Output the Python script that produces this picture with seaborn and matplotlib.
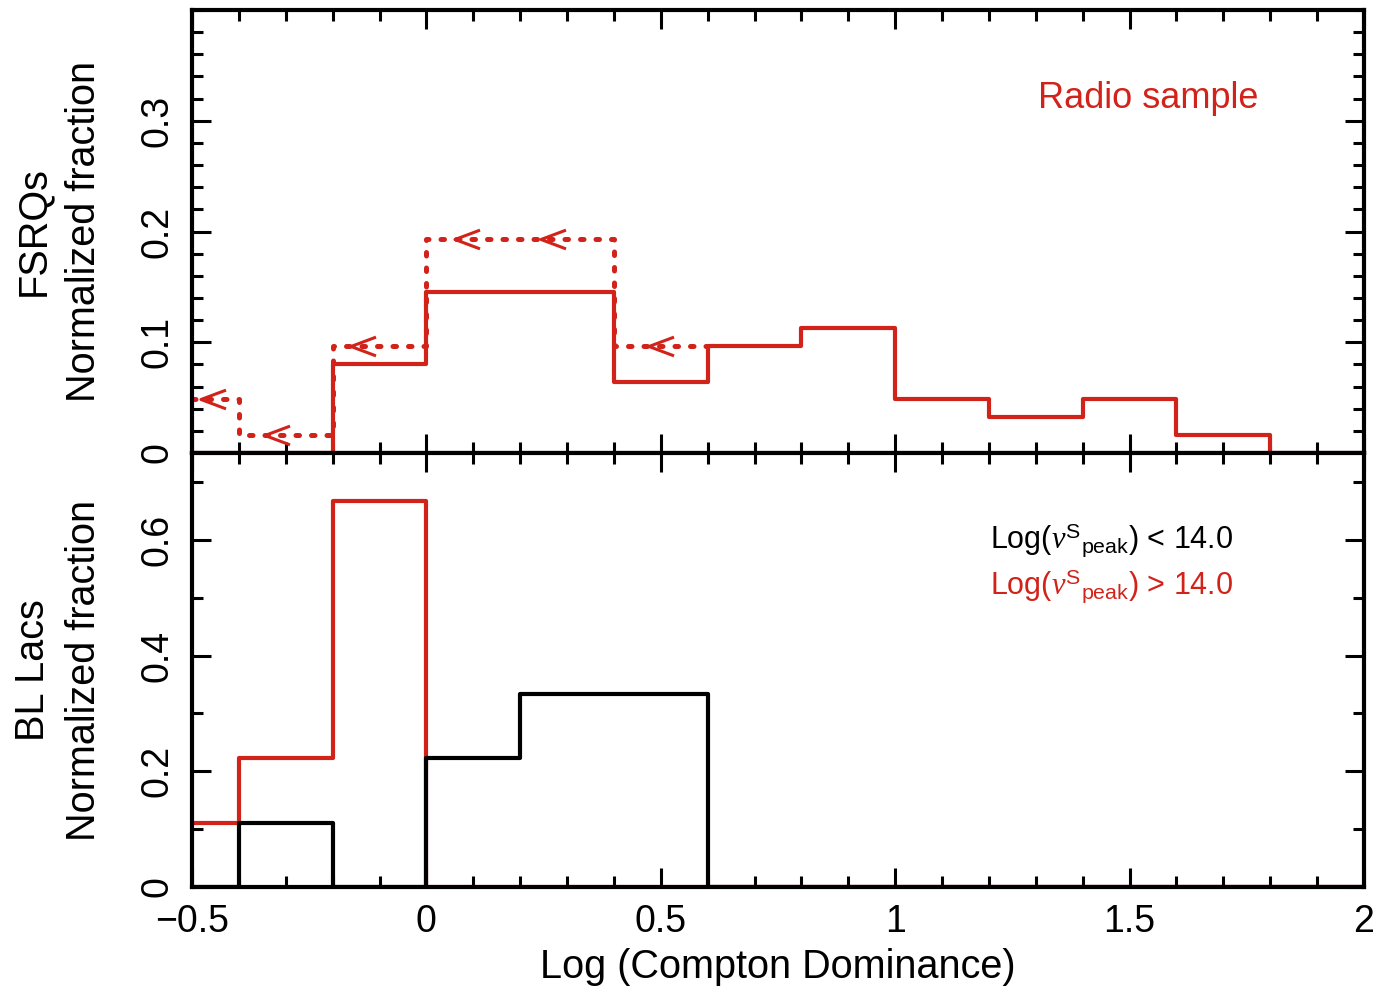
import numpy as np
import pandas as pd
import matplotlib
matplotlib.use("Agg")
import matplotlib.pyplot as plt
from matplotlib.path import Path
from matplotlib.ticker import MultipleLocator, FixedLocator
import seaborn as sns

# ---------------- data ----------------
# FSRQs, detections (solid red step histogram)
fsrq_edges = [-0.5, -0.4, -0.2, 0.0, 0.2, 0.4, 0.6, 0.8, 1.0, 1.2, 1.4, 1.6, 1.8, 2.0]
fsrq_frac = [0.0, 0.0, 0.0806, 0.1452, 0.1452, 0.0645, 0.0968, 0.1129, 0.0484, 0.0323, 0.0484, 0.0161, 0.0]
# FSRQs, including upper limits (dotted red step histogram)
fsrq_ul_edges = [-0.5, -0.4, -0.2, 0.0, 0.4, 0.6]
fsrq_ul_frac = [0.0484, 0.0161, 0.0968, 0.1935, 0.0968]
# upper-limit arrow positions
ul_arrow_x = [-0.455, -0.318, -0.136, 0.086, 0.27, 0.50]
ul_arrow_y = [0.0484, 0.0161, 0.0968, 0.1935, 0.1935, 0.0968]

# BL Lacs
bll_edges = [-0.5, -0.4, -0.2, 0.0, 0.2, 0.6, 2.0]
bll_low_frac = [0.0, 0.1111, 0.0, 0.2222, 0.3333, 0.0]     # Log(nu_peak) < 14
bll_red_edges = [-0.5, -0.4, -0.2, 0.0, 2.0]
bll_high_frac = [0.1111, 0.2222, 0.6667, 0.0]               # Log(nu_peak) > 14

xticks = [-0.5, 0, 0.5, 1, 1.5, 2]
xtick_labels = ["\u22120.5", "0", "0.5", "1", "1.5", "2"]
top_yticks = [0, 0.1, 0.2, 0.3]
top_ylabels = ["0", "0.1", "0.2", "0.3"]
bot_yticks = [0, 0.2, 0.4, 0.6]
bot_ylabels = ["0", "0.2", "0.4", "0.6"]

RED = "#d2231b"
BLACK = "#000000"

sns.set_theme(style="ticks")
plt.rcParams["font.family"] = ["Liberation Sans", "DejaVu Sans"]
plt.rcParams["mathtext.fontset"] = "custom"
plt.rcParams["mathtext.rm"] = "Liberation Sans"
plt.rcParams["mathtext.it"] = "Liberation Serif:italic"
plt.rcParams["mathtext.sf"] = "Liberation Sans"
for k in ("text.color", "axes.labelcolor", "xtick.color", "ytick.color", "axes.edgecolor"):
    plt.rcParams[k] = BLACK


def step_df(edges, vals):
    return pd.DataFrame({"x": list(edges), "y": list(vals) + [vals[-1]]})


fig = plt.figure(figsize=(13.77, 9.90), dpi=100)
L, R = 192 / 1377, 1364 / 1377
ax1 = fig.add_axes([L, 1 - 453 / 990, R - L, (453 - 10) / 990])
ax2 = fig.add_axes([L, 1 - 887 / 990, R - L, (887 - 453) / 990])

LW = 3.0

# top panel
sns.lineplot(data=step_df(fsrq_edges, fsrq_frac), x="x", y="y", ax=ax1, sort=False,
             estimator=None, drawstyle="steps-post", color=RED, lw=LW)
sns.lineplot(data=step_df(fsrq_ul_edges, fsrq_ul_frac), x="x", y="y", ax=ax1, sort=False,
             estimator=None, drawstyle="steps-post", color=RED, lw=3.6,
             linestyle=(0, (0.7, 2.4)), dash_capstyle="round")
chev = Path([(1, 0.75), (-1, 0), (1, -0.75)], [Path.MOVETO, Path.LINETO, Path.LINETO])
ax1.plot(ul_arrow_x, ul_arrow_y, linestyle="none", marker=chev, markersize=18,
         markerfacecolor="none", markeredgecolor=RED, markeredgewidth=2.2)
ax1.text(0.816, 0.80, "Radio sample", color=RED, fontsize=26, transform=ax1.transAxes,
         ha="center", va="center")

# bottom panel
sns.lineplot(data=step_df(bll_red_edges, bll_high_frac), x="x", y="y", ax=ax2, sort=False,
             estimator=None, drawstyle="steps-post", color=RED, lw=LW)
sns.lineplot(data=step_df(bll_edges, bll_low_frac), x="x", y="y", ax=ax2, sort=False,
             estimator=None, drawstyle="steps-post", color=BLACK, lw=LW)
ax2.text(1.202, 0.6, r"Log($\nu^{\mathrm{S}}{}_{\mathrm{peak}}$) < 14.0", color=BLACK,
         fontsize=22, ha="left", va="center")
ax2.text(1.202, 0.52, r"Log($\nu^{\mathrm{S}}{}_{\mathrm{peak}}$) > 14.0", color=RED,
         fontsize=22, ha="left", va="center")

for ax in (ax1, ax2):
    ax.set_xlim(-0.5, 2.0)
    ax.xaxis.set_major_locator(FixedLocator(xticks))
    ax.xaxis.set_minor_locator(MultipleLocator(0.1))
    ax.tick_params(which="both", direction="in", top=True, right=True, width=2.2,
                   colors=BLACK, labelsize=27, pad=12)
    ax.tick_params(which="major", length=14)
    ax.tick_params(which="minor", length=8)
    for s in ax.spines.values():
        s.set_linewidth(3)
        s.set_color(BLACK)
        s.set_zorder(5)
    ax.set_facecolor("white")

ax1.set_ylim(0, 0.4)
ax1.yaxis.set_major_locator(FixedLocator(top_yticks))
ax1.set_yticklabels(top_ylabels, rotation=90, va="center")
ax1.yaxis.set_minor_locator(MultipleLocator(0.02))
ax1.set_xticklabels([])
ax1.set_xlabel("")
ax1.set_ylabel("FSRQs\nNormalized fraction", fontsize=28.5, labelpad=26, linespacing=1.45)

ax2.set_ylim(0, 0.75)
ax2.yaxis.set_major_locator(FixedLocator(bot_yticks))
ax2.set_yticklabels(bot_ylabels, rotation=90, va="center")
ax2.yaxis.set_minor_locator(MultipleLocator(0.1))
ax2.set_xticklabels(xtick_labels)
ax2.set_xlabel("Log (Compton Dominance)", fontsize=28.5, labelpad=6)
ax2.set_ylabel("BL Lacs\nNormalized fraction", fontsize=28.5, labelpad=26, linespacing=1.45)

fig.savefig("out.png", dpi=100, facecolor="white")
